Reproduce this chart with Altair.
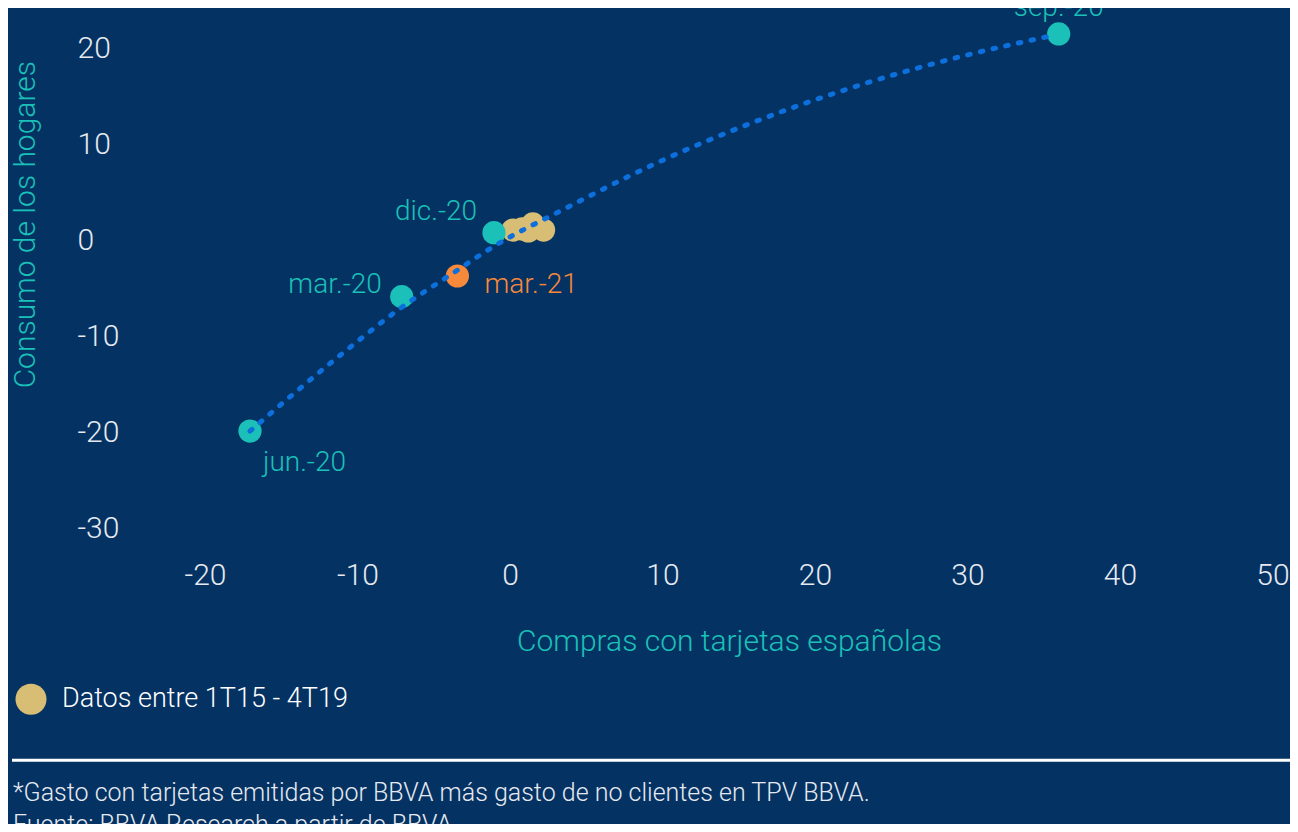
import altair as alt
import pandas as pd

# ---------------- data ----------------
key_labels = ["jun.-20", "mar.-20", "dic.-20", "sep.-20"]
key_x = [-17.05, -7.1, -1.05, 35.98]
key_y = [-19.9, -5.9, 0.76, 21.46]

last_labels = ["mar.-21"]
last_x = [-3.45]
last_y = [-3.75]

hist_x = [0.2, 0.8, 1.2, 1.5, 2.2]
hist_y = [1.04, 1.15, 0.94, 1.67, 1.04]
legend_label = "Datos entre 1T15 - 4T19"

trend_x = [-17.05, -11.04, -6.89, -3.93, -1.1, 3.65, 9.9, 16.35, 22.97, 29.72, 35.74]
trend_y = [-19.9, -11.88, -6.77, -3.65, -0.7, 3.3, 8.23, 12.5, 16.15, 19.17, 21.35]

x_ticks = [-20, -10, 0, 10, 20, 30, 40, 50]
y_ticks = [-30, -20, -10, 0, 10, 20]

x_title = "Compras con tarjetas españolas"
y_title = "Consumo de los hogares"
note1 = "*Gasto con tarjetas emitidas por BBVA más gasto de no clientes en TPV BBVA."
note2 = "Fuente: BBVA Research a partir de BBVA."

# ---------------- styles ----------------
BG = "#043263"
TEAL = "#1BC0B8"
ORANGE = "#F7893B"
SAND = "#D8BE75"
BLUE = "#0C6FDB"
LABEL = "#E6EAF0"
FONT = "Roboto"
WEIGHT = 300

key_df = pd.DataFrame({"x": key_x, "y": key_y, "label": key_labels})
last_df = pd.DataFrame({"x": last_x, "y": last_y, "label": last_labels})
hist_df = pd.DataFrame({"x": hist_x, "y": hist_y, "serie": [legend_label] * len(hist_x)})
trend_df = pd.DataFrame({"x": trend_x, "y": trend_y})

x_scale = alt.Scale(domain=[-20, 50], nice=False, zero=False)
y_scale = alt.Scale(domain=[-32, 23], nice=False, zero=False)

hyphen = "datum.value < 0 ? '-' + abs(datum.value) : '' + datum.value"

x_axis = alt.Axis(
    values=x_ticks, title=x_title, grid=False, domain=False, ticks=False, tickSize=0,
    labelExpr=hyphen,
    labelFontSize=30, labelColor=LABEL, labelFont=FONT, labelFontWeight=WEIGHT, labelPadding=37,
    labelBaseline="alphabetic", labelFlush=False, labelOverlap=False, labelBound=False,
    titleFontSize=30, titleColor=TEAL, titleFont=FONT, titleFontWeight=WEIGHT,
    titleX=524, titleY=103, titleAlign="center", titleBaseline="alphabetic",
)
y_axis = alt.Axis(
    values=y_ticks, title=y_title, grid=False, domain=False, ticks=False, tickSize=0,
    labelExpr=hyphen,
    labelFontSize=30, labelColor=LABEL, labelFont=FONT, labelFontWeight=WEIGHT, labelPadding=128,
    labelAlign="left", labelBaseline="middle", labelOverlap=False, labelBound=False,
    labelFlush=False,
    titleFontSize=30, titleColor=TEAL, titleFont=FONT, titleFontWeight=WEIGHT,
    titleX=-180, titleY=205, titleAngle=270, titleAlign="center", titleBaseline="middle",
)

X = alt.X("x:Q", scale=x_scale, axis=x_axis)
Y = alt.Y("y:Q", scale=y_scale, axis=y_axis)

hist = alt.Chart(hist_df).mark_circle(size=540, opacity=1).encode(
    X, Y,
    color=alt.Color(
        "serie:N",
        scale=alt.Scale(domain=[legend_label], range=[SAND]),
        legend=alt.Legend(
            orient="none", legendX=-190, legendY=664, title=None, padding=0,
            symbolType="circle", symbolSize=962, symbolStrokeWidth=0, symbolOpacity=1,
            labelFontSize=27, labelColor="white", labelFont=FONT, labelFontWeight=WEIGHT,
            labelOffset=15, labelLimit=0,
        ),
    ),
)
keys = alt.Chart(key_df).mark_circle(size=540, opacity=1, color=TEAL).encode(X, Y)
last = alt.Chart(last_df).mark_circle(size=540, opacity=1, color=ORANGE).encode(X, Y)
trend = alt.Chart(trend_df).mark_line(
    color=BLUE, strokeWidth=5, strokeDash=[2.6, 10.4], strokeCap="round", interpolate="monotone"
).encode(X, Y)


def label(df, name, align, dx, dy, color):
    return alt.Chart(df).transform_filter(alt.datum.label == name).mark_text(
        align=align, baseline="alphabetic", dx=dx, dy=dy, fontSize=28, font=FONT,
        fontWeight=WEIGHT, color=color
    ).encode(X, Y, text="label:N")


labels = [
    label(key_df, "jun.-20", "left", 13, 40, TEAL),
    label(key_df, "mar.-20", "right", -20, -4, TEAL),
    label(key_df, "dic.-20", "right", -17, -13, TEAL),
    label(key_df, "sep.-20", "center", 0, -18, TEAL),
    label(last_df, "mar.-21", "left", 27, 17, ORANGE),
]

one = pd.DataFrame({"a": [0]})
rule = alt.Chart(one).mark_rule(color="white", strokeWidth=3).encode(
    x=alt.value(-193), x2=alt.value(1100), y=alt.value(741)
)
foot1 = alt.Chart(pd.DataFrame({"t": [note1]})).mark_text(
    align="left", baseline="alphabetic", fontSize=25, font=FONT, fontWeight=WEIGHT, color=LABEL
).encode(x=alt.value(-192), y=alt.value(781.5), text="t:N")
foot2 = alt.Chart(pd.DataFrame({"t": [note2]})).mark_text(
    align="left", baseline="alphabetic", fontSize=25, font=FONT, fontWeight=WEIGHT, color=LABEL
).encode(x=alt.value(-192), y=alt.value(814), text="t:N")

chart = alt.layer(hist, keys, last, trend, *labels, rule, foot1, foot2).properties(
    width=1067.5,
    height=528,
    autosize=alt.AutoSizeParams(type="none"),
    padding={"left": 197, "top": 11.2, "right": 17.5, "bottom": 276.8},
    background=BG,
).configure(font=FONT).configure_view(stroke=None)

chart.save("out.html", embed_options={"renderer": "svg", "actions": False})
